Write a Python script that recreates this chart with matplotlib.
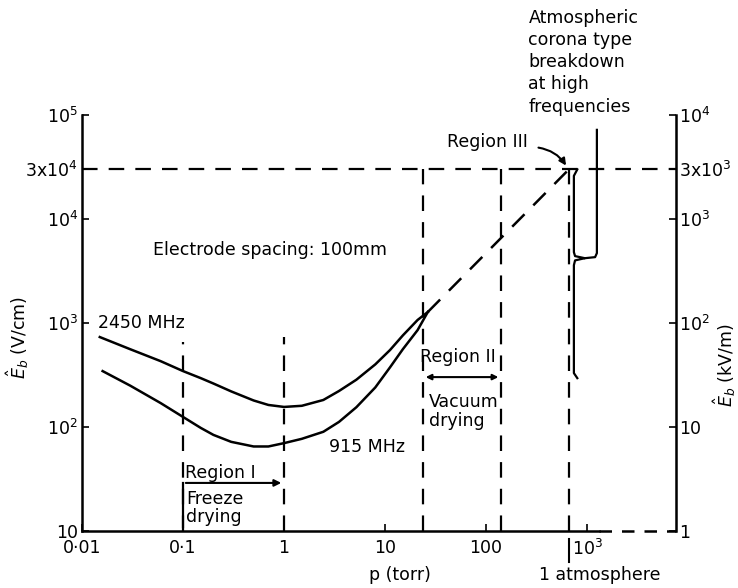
import matplotlib.pyplot as plt
from matplotlib.ticker import NullLocator
from matplotlib.transforms import blended_transform_factory

# breakdown field curves (p in torr, E in V/cm)
p_2450 = [0.015, 0.03, 0.06, 0.1, 0.15, 0.2, 0.3, 0.5, 0.7, 1.0, 1.5, 2.45,
          3.5, 5.2, 8, 11.2, 15, 21, 26.5]
e_2450 = [733, 560, 430, 345, 295, 262, 220, 180, 163, 156, 160, 182,
          222, 285, 400, 550, 760, 1070, 1276]
p_915 = [0.016, 0.03, 0.06, 0.1, 0.15, 0.2, 0.3, 0.5, 0.7, 1.0, 1.5, 2.45,
         3.5, 5.2, 8, 11.2, 15, 21, 26.5]
e_915 = [345, 250, 170, 125, 98, 84, 72, 65, 65, 70, 77, 90,
         112, 155, 240, 375, 560, 855, 1276]

# dashed extrapolation to atmospheric corona breakdown
p_extrap = [26.5, 660]
e_extrap = [1276, 3e4]

# region boundaries (vertical dashed lines) and their top ends
region_p = [0.1, 1, 23.7, 141, 660]
region_top = [660, 733, 3e4, 3e4, 3e4]

x_ticks = [0.01, 0.1, 1, 10, 100, 1000]
x_labels = ['0·01', '0·1', '1', '10', '100', '$10^3$']
yl_ticks = [10, 100, 1000, 1e4, 3e4, 1e5]
yl_labels = ['10', '$10^2$', '$10^3$', '$10^4$', '3x$10^4$', '$10^5$']
yr_ticks = [1, 10, 100, 1000, 3000, 1e4]
yr_labels = ['1', '10', '$10^2$', '$10^3$', '3x$10^3$', '$10^4$']

fs = 12.5
dash = (0, (7, 5))

fig = plt.figure(figsize=(7.38, 5.88), dpi=100)
ax = fig.add_axes([0.1111, 0.0969, 0.805, 0.7075])
ax.set_xscale('log')
ax.set_yscale('log')
ax.set_xlim(0.01, 7600)
ax.set_ylim(10, 1e5)

ax.plot(p_2450, e_2450, 'k-', lw=1.8)
ax.plot(p_915, e_915, 'k-', lw=1.8)
ax.plot(p_extrap, e_extrap, color='k', lw=1.8, ls=dash)

for p, top in zip(region_p, region_top):
    ax.plot([p, p], [10, top], color='k', lw=1.6, ls=dash)

# 3x10^4 level across the plot
ax.plot([0.01, 7600], [3e4, 3e4], color='k', lw=1.6, ls=dash, clip_on=False)

# axes styling
for s in ['top', 'bottom']:
    ax.spines[s].set_visible(False)
ax.spines['left'].set_linewidth(1.8)
ax.plot([0.01, 1300], [10, 10], 'k-', lw=1.8, clip_on=False)
ax.plot([1300, 7600], [10, 10], color='k', lw=1.8, ls=(0, (5, 4)), clip_on=False)

ax.set_xticks(x_ticks)
ax.set_xticklabels(x_labels, fontsize=fs)
ax.set_yticks(yl_ticks)
ax.set_yticklabels(yl_labels, fontsize=fs)
ax.xaxis.set_minor_locator(NullLocator())
ax.yaxis.set_minor_locator(NullLocator())
ax.tick_params(direction='in', length=5, width=1.2, pad=6)
ax.tick_params(axis='y', pad=3)

ax2 = ax.twinx()
ax2.set_yscale('log')
ax2.set_ylim(1, 1e4)
ax2.set_yticks(yr_ticks)
ax2.set_yticklabels(yr_labels, fontsize=fs)
ax2.yaxis.set_minor_locator(NullLocator())
ax2.tick_params(direction='in', length=5, width=1.2, pad=2)
for s in ['top', 'bottom', 'left']:
    ax2.spines[s].set_visible(False)
ax2.spines['right'].set_linewidth(1.8)

# axis labels
fig.text(0.5420, 0.022, 'p (torr)', fontsize=fs, ha='center', va='center')
fig.text(0.813, 0.022, '1 atmosphere', fontsize=fs, ha='center', va='center')
tr = blended_transform_factory(ax.transData, ax.transAxes)
ax.plot([660, 660], [-0.02, -0.075], 'k-', lw=1.5, transform=tr, clip_on=False)
fig.text(0.024, 0.427, r'$\hat{E}_b$ (V/cm)', fontsize=fs, rotation=90,
         ha='center', va='center')
fig.text(0.982, 0.379, r'$\hat{E}_b$ (kV/m)', fontsize=fs, rotation=90,
         ha='center', va='center')

# curve labels
ax.text(0.0145, 1000, '2450 MHz', fontsize=fs, va='center')
ax.text(2.8, 64, '915 MHz', fontsize=fs, va='center')
ax.text(0.05, 5000, 'Electrode spacing: 100mm', fontsize=fs, va='center')

# Region I
ax.text(0.105, 36, 'Region I', fontsize=fs, va='center')
ax.annotate('', xy=(1, 29), xytext=(0.1, 29),
            arrowprops=dict(arrowstyle='-|>', color='k', lw=1.5, mutation_scale=10))
ax.plot([0.1, 0.1], [11, 29], 'k-', lw=1.6)
ax.text(0.108, 25, 'Freeze\ndrying', fontsize=fs, va='top', linespacing=1.05)

# Region II
ax.text(52, 470, 'Region II', fontsize=fs, ha='center', va='center')
ax.annotate('', xy=(141, 302), xytext=(23.7, 302),
            arrowprops=dict(arrowstyle='<|-|>', color='k', lw=1.5, mutation_scale=8))
ax.text(27, 213, 'Vacuum\ndrying', fontsize=fs, va='top', linespacing=1.05)

# Region III
ax.text(102, 55000, 'Region III', fontsize=fs, ha='center', va='center')
ax.annotate('', xy=(640, 3.1e4), xytext=(310, 49000),
            arrowprops=dict(arrowstyle='-|>', color='k', lw=1.5,
                            connectionstyle='arc3,rad=-0.25', mutation_scale=10),
            annotation_clip=False)

# brace for atmospheric corona breakdown
brace_p = [800, 740, 740, 760, 950, 760, 740, 740, 800]
brace_e = [3.0e4, 2.6e4, 4800, 4400, 4200, 4000, 3600, 330, 295]
ax.plot(brace_p, brace_e, 'k-', lw=1.6, clip_on=False)
ax.plot([950, 1200, 1250, 1250], [4200, 4300, 4700, 72000], 'k-', lw=1.6,
        clip_on=False)
fig.text(0.716, 0.985, 'Atmospheric\ncorona type\nbreakdown\nat high\nfrequencies',
         fontsize=fs, va='top', ha='left', linespacing=1.3)

fig.savefig('out.png', dpi=100)
